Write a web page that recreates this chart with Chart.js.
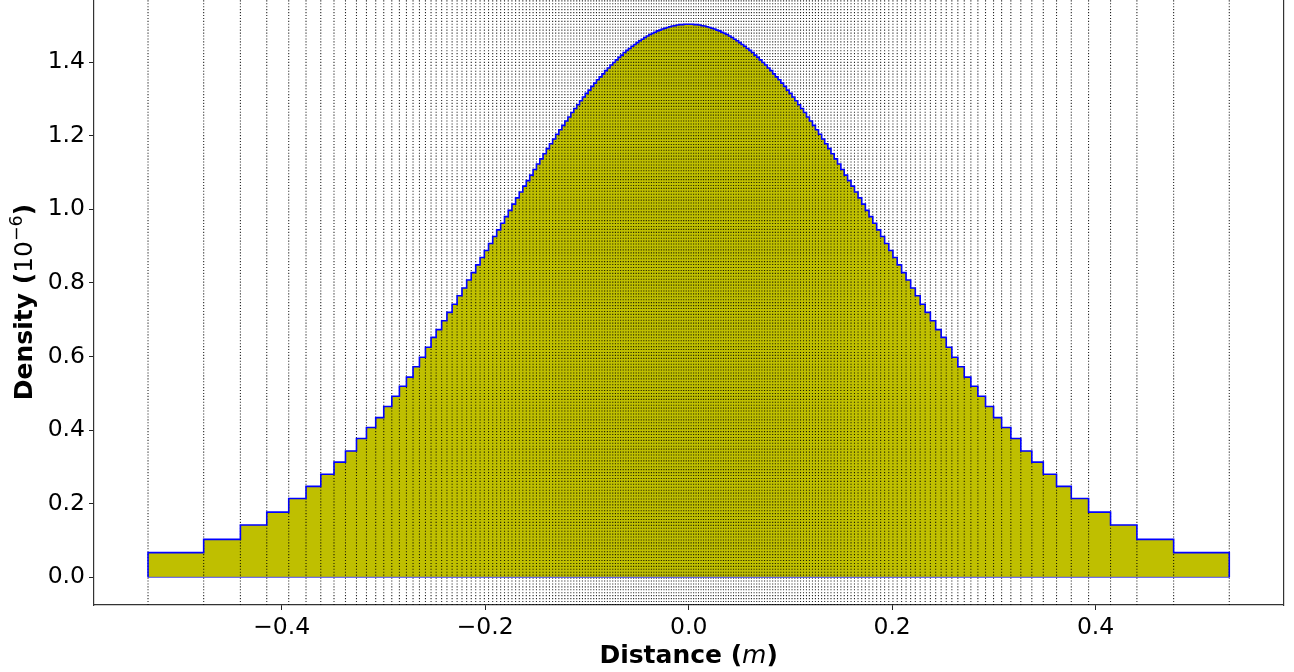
<!DOCTYPE html>
<html><head><meta charset="utf-8">
<script src="https://cdn.jsdelivr.net/npm/chart.js@4.4.0/dist/chart.umd.min.js"></script>
<style>html,body{margin:0;padding:0;background:#fff;overflow:hidden}canvas{display:block}</style>
</head><body>
<canvas id="c" width="1294" height="672"></canvas>
<script>
// Bin edges (m) of the variable-width histogram
const binEdges = [
-0.5314, -0.4767, -0.4406, -0.4147, -0.3931, -0.3761, -0.3616, -0.3486, -0.3373, -0.3265,
-0.3167, -0.3076, -0.2997, -0.2918, -0.2843, -0.2774, -0.2709, -0.2646, -0.2587, -0.2532,
-0.2482, -0.2428, -0.2376, -0.2325, -0.2276, -0.2228, -0.2182, -0.2137, -0.2093, -0.2050,
-0.2008, -0.1967, -0.1926, -0.1887, -0.1848, -0.1810, -0.1773, -0.1737, -0.1701, -0.1665,
-0.1630, -0.1596, -0.1562, -0.1529, -0.1496, -0.1463, -0.1431, -0.1399, -0.1368, -0.1337,
-0.1307, -0.1276, -0.1246, -0.1217, -0.1187, -0.1158, -0.1129, -0.1100, -0.1072, -0.1044,
-0.1016, -0.0988, -0.0961, -0.0933, -0.0906, -0.0879, -0.0852, -0.0826, -0.0799, -0.0773,
-0.0746, -0.0720, -0.0694, -0.0669, -0.0643, -0.0617, -0.0592, -0.0566, -0.0541, -0.0516,
-0.0491, -0.0466, -0.0441, -0.0416, -0.0391, -0.0366, -0.0342, -0.0317, -0.0292, -0.0268,
-0.0243, -0.0219, -0.0195, -0.0170, -0.0146, -0.0122, -0.0097, -0.0073, -0.0049, -0.0024,
0,
0.0024, 0.0049, 0.0073, 0.0097, 0.0122, 0.0146, 0.0170, 0.0195, 0.0219, 0.0243,
0.0268, 0.0292, 0.0317, 0.0342, 0.0366, 0.0391, 0.0416, 0.0441, 0.0466, 0.0491,
0.0516, 0.0541, 0.0566, 0.0592, 0.0617, 0.0643, 0.0669, 0.0694, 0.0720, 0.0746,
0.0773, 0.0799, 0.0826, 0.0852, 0.0879, 0.0906, 0.0933, 0.0961, 0.0988, 0.1016,
0.1044, 0.1072, 0.1100, 0.1129, 0.1158, 0.1187, 0.1217, 0.1246, 0.1276, 0.1307,
0.1337, 0.1368, 0.1399, 0.1431, 0.1463, 0.1496, 0.1529, 0.1562, 0.1596, 0.1630,
0.1665, 0.1701, 0.1737, 0.1773, 0.1810, 0.1848, 0.1887, 0.1926, 0.1967, 0.2008,
0.2050, 0.2093, 0.2137, 0.2182, 0.2228, 0.2276, 0.2325, 0.2376, 0.2428, 0.2482,
0.2532, 0.2587, 0.2646, 0.2709, 0.2774, 0.2843, 0.2918, 0.2997, 0.3076, 0.3167,
0.3265, 0.3373, 0.3486, 0.3616, 0.3761, 0.3931, 0.4147, 0.4406, 0.4767, 0.5314
];
// Density (1e-6) of each bin, left to right
const binDensity = [
0.067, 0.103, 0.142, 0.177, 0.214, 0.247, 0.280, 0.313, 0.343, 0.377,
0.407, 0.434, 0.464, 0.492, 0.519, 0.544, 0.572, 0.598, 0.625, 0.652,
0.673, 0.697, 0.720, 0.742, 0.765, 0.786, 0.808, 0.828, 0.849, 0.869,
0.888, 0.907, 0.926, 0.944, 0.962, 0.980, 0.997, 1.014, 1.031, 1.047,
1.063, 1.078, 1.093, 1.108, 1.123, 1.137, 1.151, 1.165, 1.178, 1.191,
1.204, 1.216, 1.228, 1.240, 1.251, 1.263, 1.274, 1.284, 1.295, 1.305,
1.315, 1.324, 1.334, 1.343, 1.352, 1.360, 1.368, 1.377, 1.384, 1.392,
1.399, 1.406, 1.413, 1.419, 1.426, 1.432, 1.437, 1.443, 1.448, 1.453,
1.458, 1.462, 1.467, 1.471, 1.475, 1.478, 1.481, 1.485, 1.487, 1.490,
1.492, 1.494, 1.496, 1.498, 1.499, 1.501, 1.502, 1.502, 1.503, 1.503,
1.503, 1.503, 1.502, 1.502, 1.501, 1.499, 1.498, 1.496, 1.494, 1.492,
1.490, 1.487, 1.485, 1.481, 1.478, 1.475, 1.471, 1.467, 1.462, 1.458,
1.453, 1.448, 1.443, 1.437, 1.432, 1.426, 1.419, 1.413, 1.406, 1.399,
1.392, 1.384, 1.377, 1.368, 1.360, 1.352, 1.343, 1.334, 1.324, 1.315,
1.305, 1.295, 1.284, 1.274, 1.263, 1.251, 1.240, 1.228, 1.216, 1.204,
1.191, 1.178, 1.165, 1.151, 1.137, 1.123, 1.108, 1.093, 1.078, 1.063,
1.047, 1.031, 1.014, 0.997, 0.980, 0.962, 0.944, 0.926, 0.907, 0.888,
0.869, 0.849, 0.828, 0.808, 0.786, 0.765, 0.742, 0.720, 0.697, 0.673,
0.652, 0.625, 0.598, 0.572, 0.544, 0.519, 0.492, 0.464, 0.434, 0.407,
0.377, 0.343, 0.313, 0.280, 0.247, 0.214, 0.177, 0.142, 0.103, 0.067
];
const xTickValues = [-0.4, -0.2, 0.0, 0.2, 0.4];
const xTickLabels = ['\u22120.4', '\u22120.2', '0.0', '0.2', '0.4'];
const yTickValues = [0.0, 0.2, 0.4, 0.6, 0.8, 1.0, 1.2, 1.4];
const yTickLabels = ['0.0', '0.2', '0.4', '0.6', '0.8', '1.0', '1.2', '1.4'];
const xRange = [-0.5845, 0.5845];
const yRange = [-0.0753, 1.5688];
const xTitleParts = ['Distance (', 'm', ')'];
const yTitleParts = ['Density (', '10', '\u22126', ')'];

// step outline points built from the arrays
const histPoints = [{x: binEdges[0], y: 0}];
binDensity.forEach((h, i) => histPoints.push({x: binEdges[i], y: h}));
histPoints.push({x: binEdges[binEdges.length - 1], y: 0});
const basePoints = [{x: binEdges[0], y: 0}, {x: binEdges[binEdges.length - 1], y: 0}];
const edgeLinePoints = [];
binEdges.forEach(e => edgeLinePoints.push({x: e, y: yRange[0]}, {x: e, y: yRange[1]}, {x: e, y: null}));

const FONT = '"DejaVu Sans", "Liberation Sans", sans-serif';

function drawParts(ctx, parts, cx, cy, rotate) {
  ctx.save();
  ctx.translate(cx, cy);
  if (rotate) ctx.rotate(-Math.PI / 2);
  ctx.fillStyle = '#000';
  ctx.textBaseline = 'alphabetic';
  ctx.textAlign = 'left';
  let total = 0;
  parts.forEach(p => { ctx.font = p.font; p.w = ctx.measureText(p.text).width; total += p.w; });
  let x = -total / 2;
  parts.forEach(p => { ctx.font = p.font; ctx.fillText(p.text, x, p.dy || 0); x += p.w; });
  ctx.restore();
}

const titlePlugin = {
  id: 'axisTitles',
  afterDraw(chart) {
    const {ctx, chartArea} = chart;
    const cx = (chartArea.left + chartArea.right) / 2;
    drawParts(ctx, [
      {text: xTitleParts[0], font: 'bold 25px ' + FONT},
      {text: xTitleParts[1], font: 'italic 25px ' + FONT},
      {text: xTitleParts[2], font: 'bold 25px ' + FONT}
    ], cx, 663, false);
    drawParts(ctx, [
      {text: yTitleParts[0], font: 'bold 25px ' + FONT},
      {text: yTitleParts[1], font: '25px ' + FONT},
      {text: yTitleParts[2], font: '17.5px ' + FONT, dy: -10},
      {text: yTitleParts[3], font: 'bold 25px ' + FONT}
    ], 32, 302, true);
  }
};

const noPad = s => { s.paddingTop = 0; s.paddingBottom = 0; s.paddingLeft = 0; s.paddingRight = 0; };

new Chart(document.getElementById('c'), {
  type: 'line',
  data: {
    datasets: [
      { // blue step outline (top)
        data: histPoints, stepped: 'before', borderColor: '#0000ff', borderWidth: 1.6,
        fill: false, pointRadius: 0, order: 0
      },
      {
        data: basePoints, borderColor: 'rgba(60,60,255,0.7)', borderWidth: 1.2,
        fill: false, pointRadius: 0, order: 0
      },
      { // dotted bin-edge lines
        data: edgeLinePoints, borderColor: 'rgba(0,0,0,0.85)', borderWidth: 1.1,
        borderDash: [1.1, 1.83], fill: false, pointRadius: 0, spanGaps: false, order: 1
      },
      { // filled bars
        data: histPoints, stepped: 'before', borderWidth: 0, borderColor: 'rgba(0,0,0,0)',
        backgroundColor: '#bfbf00', fill: 'origin', pointRadius: 0, order: 2
      }
    ]
  },
  options: {
    responsive: false,
    animation: false,
    devicePixelRatio: 1,
    layout: {padding: 0},
    plugins: {legend: {display: false}, tooltip: {enabled: false}, title: {display: false}},
    elements: {point: {radius: 0}, line: {tension: 0}},
    scales: {
      x: {
        type: 'linear', min: xRange[0], max: xRange[1],
        afterBuildTicks: s => { s.ticks = xTickValues.map(v => ({value: v})); },
        afterFit: s => { s.height = 67; noPad(s); },
        ticks: {
          callback: (v, i) => xTickLabels[i], color: '#000', padding: 4,
          font: {family: FONT, size: 23.5}, maxRotation: 0, autoSkip: false
        },
        grid: {display: true, drawOnChartArea: false, drawTicks: true, tickLength: 5, color: '#222', lineWidth: 1},
        border: {display: true, color: '#333', width: 1.2}
      },
      y: {
        type: 'linear', min: yRange[0], max: yRange[1],
        afterBuildTicks: s => { s.ticks = yTickValues.map(v => ({value: v})); },
        afterFit: s => { s.width = 94; noPad(s); },
        ticks: {
          callback: (v, i) => yTickLabels[i], color: '#000', padding: 4,
          font: {family: FONT, size: 23.5}, autoSkip: false
        },
        grid: {display: true, drawOnChartArea: false, drawTicks: true, tickLength: 5, color: '#222', lineWidth: 1},
        border: {display: true, color: '#333', width: 1.2}
      },
      yRight: {
        type: 'linear', position: 'right', min: 0, max: 1,
        afterFit: s => { s.width = 10.7; noPad(s); },
        ticks: {display: false},
        grid: {display: false, drawOnChartArea: false, drawTicks: false},
        border: {display: true, color: '#333', width: 1.2}
      }
    }
  },
  plugins: [titlePlugin]
});
</script>
</body></html>
